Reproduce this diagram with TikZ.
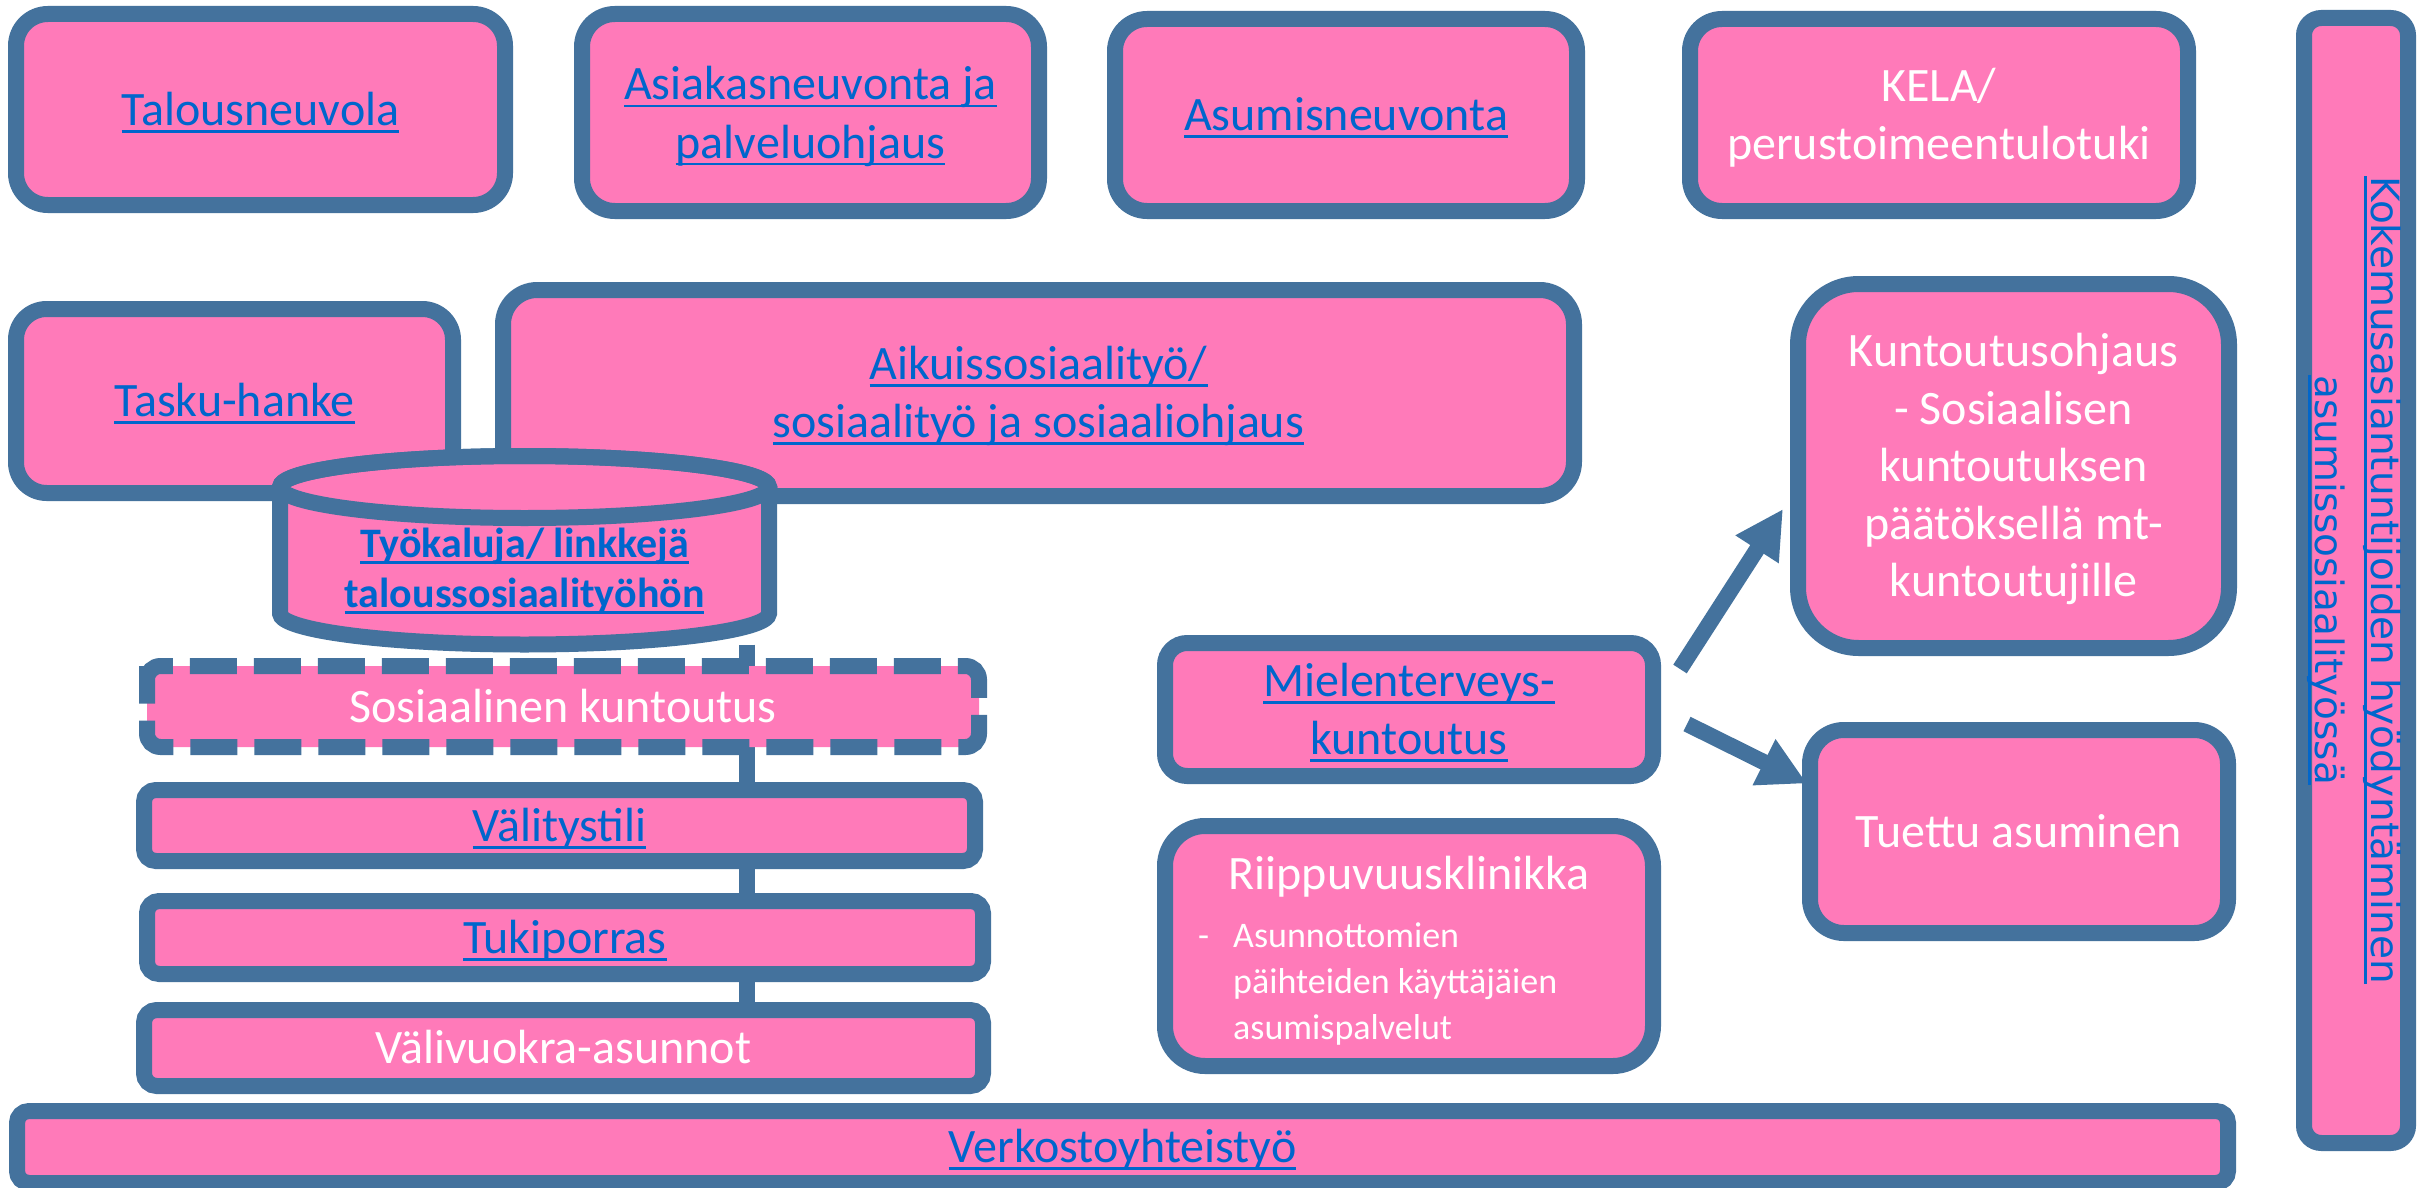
\documentclass[tikz,border=0pt]{standalone}
\usepackage{fontspec}
\setmainfont{Carlito}
\newfontfamily\dvs{DejaVu Sans}
\usetikzlibrary{arrows.meta,backgrounds}
\definecolor{pk}{HTML}{FF7AB9}
\definecolor{bord}{HTML}{44729D}
\definecolor{lnk}{HTML}{0066CC}
\newcommand\myul[3]{\setbox0=\hbox{#3}\rlap{\rule[-#1]{\wd0}{#2}}\box0}
\newcommand\ulA[1]{\myul{7.5pt}{2.8pt}{#1}}
\newcommand\rbox[6][]{%
  \pgfmathsetmacro\bw{#5-#3-16}%
  \pgfmathsetmacro\bh{#6-#4-16}%
  \pgfmathsetmacro\br{0.1667*min(\bw,\bh)}%
  \node[box,#1,minimum width=\bw pt,minimum height=\bh pt,rounded corners=\br pt] (#2) at ({(#3+#5)/2},{(#4+#6)/2}) {};%
}
\tikzset{
  box/.style={draw=bord, fill=pk, line width=16pt, inner sep=0pt, outer sep=0pt},
  dashborder/.style={draw=bord, line width=16pt, dash pattern=on 47pt off 17pt, rounded corners=13.5pt},
  tx/.style={inner sep=0pt, anchor=base, font=\fontsize{48pt}{58pt}\selectfont, text=white},
  lk/.style={tx, text=lnk},
  small/.style={tx, anchor=base west, font=\fontsize{36pt}{46pt}\selectfont},
  boldlk/.style={lk, font=\fontsize{42pt}{50pt}\selectfont\bfseries},
  vert/.style={lk, rotate=-90, font=\dvs\fontsize{39pt}{47pt}\selectfont},
  conn/.style={draw=bord, line width=16pt},
  arr/.style={conn, -{Triangle[length=48pt,width=48pt]}}
}
\begin{document}
\begin{tikzpicture}[x=1pt,y=-1pt]
\useasboundingbox (0,0) rectangle (2418,1188);
% top row
\rbox{tal}{8}{6}{513}{213}
\rbox{asi}{574}{6}{1047}{219}
\rbox{asu}{1107}{11}{1585}{219}
\rbox{kel}{1682}{11}{2196}{219}
% right vertical
\rbox{kok}{2296}{10}{2416}{1151}
% second row
\rbox{tas}{8}{301}{461}{501}
\rbox{aik}{495}{282}{1582}{504}
\rbox{kun}{1790}{276}{2237}{656}
% cylinder
\node[inner sep=0pt, minimum width=489pt, minimum height=188.5pt] (cyl) at (524.5,550.25) {};
\filldraw[draw=bord, fill=pk, line width=16pt]
  (280,487) -- (280,613.5) arc[start angle=180, end angle=0, x radius=244.5, y radius=31]
  -- (769,487) arc[start angle=0, end angle=-180, x radius=244.5, y radius=31] -- cycle;
\draw[draw=bord, line width=16pt] (524.5,487) ellipse[x radius=244.5, y radius=31];
% stacked boxes
\rbox[draw=none]{sos}{139}{658}{987}{755}
\draw[dashborder] ([shift={(0,13.5)}]sos.north west) -- (sos.north west) -- (sos.north east)
  -- (sos.south east) -- (sos.south west) -- cycle;
\rbox{val}{136}{782}{983}{869}
\rbox{tuk}{139}{893}{991}{982}
\rbox{vvk}{136}{1002}{991}{1094}
\rbox{ver}{9}{1103}{2236}{1191}
% middle right
\rbox{mie}{1157}{635}{1661}{784}
\rbox{rii}{1157}{818}{1661}{1074}
\rbox{tue}{1802}{722}{2236}{941}
% connectors behind
\coordinate (cx) at (747,0);
\begin{pgfonlayer}{background}
  \fill[white] (0,0) rectangle (2418,1188);
  \draw[conn] (cyl.south -| cx) -- (sos.north -| cx);
  \draw[conn] (sos.south -| cx) -- (val.north -| cx);
  \draw[conn] (val.south -| cx) -- (tuk.north -| cx);
  \draw[conn] (tuk.south -| cx) -- (vvk.north -| cx);
  \draw[arr] ([shift={(27,26)}]mie.north east) -- ([shift={(-15,43)}]kun.west);
  \draw[arr] ([shift={(34,14.5)}]mie.east) -- ([shift={(-3,-48)}]tue.west);
\end{pgfonlayer}
% texts
\node[lk] (t1) at (260.5,125.5) {\ulA{Talousneuvola}};
\node[lk] (t2a) at (810.5,100) {\ulA{Asiakasneuvonta ja}};
\node[lk] (t2b) at (810.5,158) {\ulA{palveluohjaus}};
\node[lk] (t3) at (1346,130.5) {\ulA{Asumisneuvonta}};
\node[tx] (t4a) at (1939,101.5) {KELA/};
\node[tx] (t4b) at (1939,159.5) {perustoimeentulotuki};
\node[lk] (t5) at (234.5,416.5) {\ulA{Tasku-hanke}};
\node[lk] (t6a) at (1038.5,379.5) {\ulA{Aikuissosiaalityö/}};
\node[lk] (t6b) at (1038.5,437.5) {\ulA{sosiaalityö ja sosiaaliohjaus}};
\node[boldlk] (t7a) at (524.5,557) {\myul{6.5pt}{3pt}{Työkaluja/ linkkejä}};
\node[boldlk] (t7b) at (524.5,607.5) {\myul{6.5pt}{3pt}{taloussosiaalityöhön}};
\node[tx] (t8) at (563,722) {Sosiaalinen kuntoutus};
\node[lk] (t9) at (559.5,841) {\ulA{Välitystili}};
\node[lk] (t10) at (565,953) {\ulA{Tukiporras}};
\node[tx] (t11) at (563.5,1063) {Välivuokra-asunnot};
\node[lk] (t12) at (1122.5,1162) {\ulA{Verkostoyhteistyö}};
\node[lk] (t13a) at (1409,696.5) {\ulA{Mielenterveys-}};
\node[lk] (t13b) at (1409,754.5) {\ulA{kuntoutus}};
\node[tx] (t14) at (1409,889) {Riippuvuusklinikka};
\node[small] (t14d) at (1198,947) {-};
\node[small] (t14a) at (1233,947) {Asunnottomien};
\node[small] (t14b) at (1233,993) {päihteiden käyttäjäien};
\node[small] (t14c) at (1233,1039) {asumispalvelut};
\node[tx] (t15a) at (2013.5,366.5) {Kuntoutusohjaus};
\node[tx] (t15b) at (2013.5,424) {- Sosiaalisen};
\node[tx] (t15c) at (2013.5,481.5) {kuntoutuksen};
\node[tx] (t15d) at (2013.5,539) {päätöksellä mt-};
\node[tx] (t15e) at (2013.5,596.5) {kuntoutujille};
\node[tx] (t16) at (2019,847) {Tuettu asuminen};
\node[vert] (t17a) at (2371,580) {\myul{7pt}{2.5pt}{Kokemusasiantuntijoiden hyödyntäminen}};
\node[vert] (t17b) at (2315,580) {\myul{7pt}{2.5pt}{asumissosiaalityössä}};
\end{tikzpicture}
\end{document}
